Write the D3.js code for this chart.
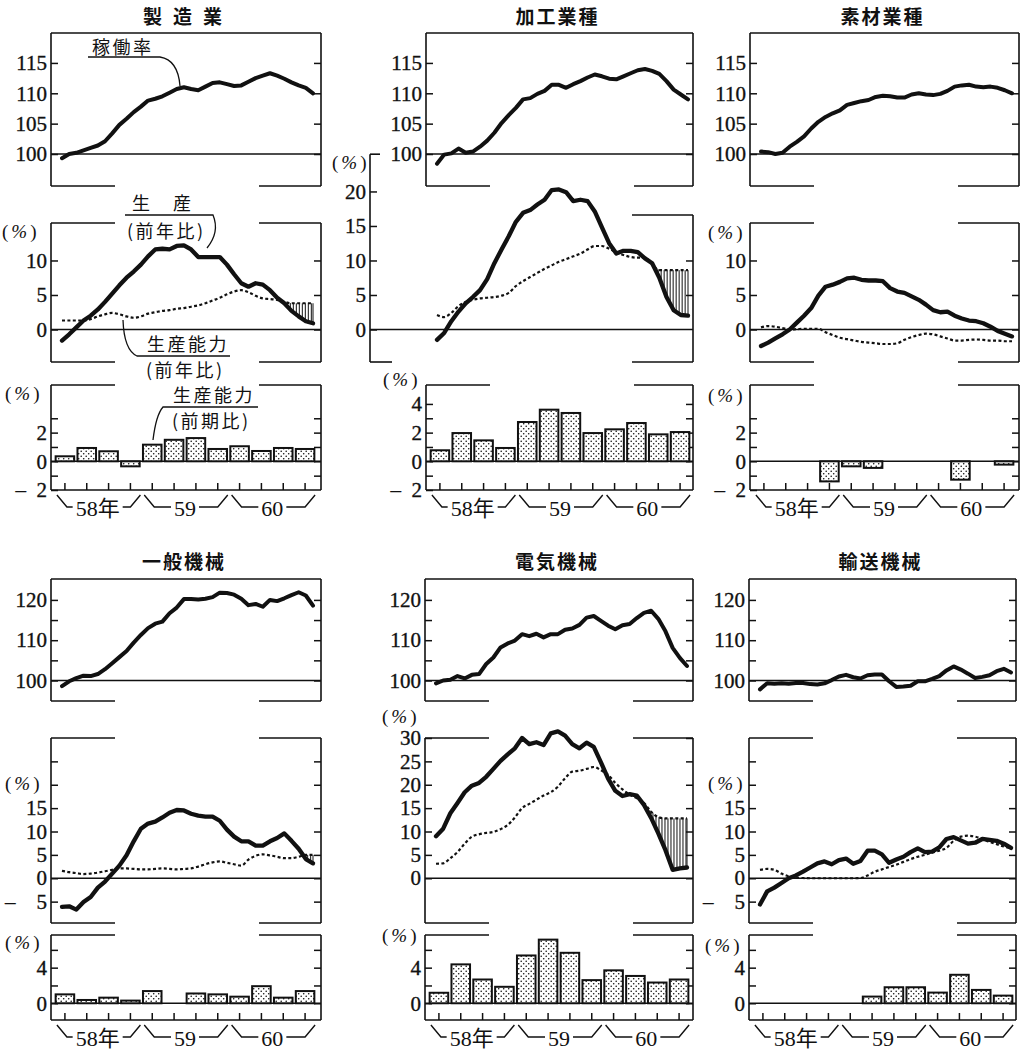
<!DOCTYPE html>
<html>
<head>
<meta charset="utf-8">
<script src="https://cdn.jsdelivr.net/npm/d3@7"></script>
<style>
  body { margin: 0; background: #fff; }
  svg text { font-family: "Liberation Serif", "Noto Sans CJK JP", serif; fill: #111; }
  svg text.jp { font-family: "Noto Sans CJK JP", sans-serif; }
  svg .tick text { stroke: #111; stroke-width: 0.35px; }
</style>
</head>
<body>
<svg id="chart" width="1025" height="1052"></svg>
<script>
// months 0..35 = 58年1月 .. 60年12月, quarters 0..11
const months = d3.range(36);
const quarters = d3.range(12);
const yearLabels = ["58年", "59", "60"];
const titles = ["製造業", "加工業種", "素材業種", "一般機械", "電気機械", "輸送機械"];

// 製造業
const mfgRate = [99.3,100.0,100.2,100.6,101.0,101.4,102.1,103.4,104.8,105.8,106.9,107.8,108.8,109.1,109.5,110.1,110.7,111.0,110.7,110.5,111.1,111.7,111.8,111.5,111.2,111.3,111.9,112.5,112.9,113.3,112.9,112.4,111.8,111.3,110.9,110.0];
const mfgOutput = [-1.6,-0.7,0.3,1.3,2.0,2.9,4.0,5.2,6.4,7.5,8.4,9.4,10.6,11.6,11.7,11.6,12.1,12.2,11.6,10.5,10.5,10.5,10.5,9.4,8.0,6.7,6.2,6.7,6.5,5.7,4.6,3.8,2.7,1.9,1.2,0.9];
const mfgCapacity = [1.3,1.3,1.3,1.3,1.5,1.9,2.2,2.4,2.2,1.9,1.7,1.9,2.3,2.5,2.7,2.8,3.0,3.1,3.3,3.5,3.8,4.2,4.6,5.1,5.5,5.7,5.4,4.9,4.5,4.4,4.3,4.0,3.8,3.8,3.8,3.8];
const mfgCapQ = [0.35,0.93,0.7,-0.35,1.16,1.5,1.62,0.86,1.05,0.72,0.93,0.86];

// 加工業種
const procRate = [98.4,99.9,100.1,100.9,100.2,100.4,101.2,102.2,103.5,105.1,106.4,107.6,109.0,109.2,109.9,110.4,111.4,111.4,110.9,111.5,112.0,112.6,113.1,112.8,112.4,112.3,112.8,113.3,113.8,114.0,113.7,113.2,112.0,110.6,109.8,109.0];
const procOutput = [-1.5,-0.5,1.2,2.6,3.8,4.7,5.7,7.3,9.6,11.6,13.5,15.6,16.9,17.3,18.1,18.8,20.2,20.3,19.9,18.6,18.8,18.6,17.1,14.8,12.5,11.0,11.4,11.4,11.2,10.3,9.6,7.5,4.7,2.8,2.1,2.0];
const procCapacity = [2.1,1.8,2.4,3.4,4.0,4.3,4.5,4.6,4.7,4.9,5.3,6.3,7.0,7.6,8.2,8.8,9.3,9.8,10.2,10.6,11.0,11.6,12.1,12.1,11.7,11.2,10.8,10.5,10.4,10.4,9.4,8.6,8.6,8.6,8.6,8.6];
const procCapQ = [0.77,1.97,1.46,0.93,2.74,3.6,3.37,1.97,2.23,2.67,1.88,2.04];

// 素材業種
const matRate = [100.4,100.3,100.0,100.2,101.2,102.0,102.9,104.2,105.3,106.1,106.7,107.2,108.1,108.4,108.7,108.9,109.4,109.6,109.5,109.3,109.3,109.8,110.0,109.8,109.7,109.9,110.4,111.1,111.3,111.4,111.1,111.0,111.1,110.9,110.5,110.0];
const matOutput = [-2.4,-1.9,-1.3,-0.7,0.0,1.0,2.0,3.1,4.9,6.2,6.5,6.9,7.4,7.5,7.2,7.1,7.1,7.0,6.0,5.5,5.3,4.8,4.3,3.6,2.8,2.5,2.6,2.0,1.6,1.3,1.2,0.9,0.4,-0.2,-0.6,-1.0];
const matCapacity = [0.3,0.5,0.4,0.2,0.0,0.05,0.1,0.1,0.1,-0.4,-0.8,-1.2,-1.4,-1.6,-1.8,-1.9,-2.0,-2.1,-2.1,-2.0,-1.5,-1.1,-0.8,-0.6,-0.7,-1.0,-1.3,-1.6,-1.6,-1.5,-1.45,-1.5,-1.6,-1.6,-1.7,-1.7];
const matCapQ = [0,0,0,-1.4,-0.35,-0.46,0,0,0,-1.28,0,-0.23];

// 一般機械
const genRate = [98.6,99.8,100.6,101.2,101.1,101.6,102.8,104.3,105.8,107.3,109.4,111.3,113.0,114.1,114.6,116.7,118.1,120.2,120.2,120.1,120.3,120.7,121.8,121.7,121.3,120.3,118.7,119.0,118.3,120.0,119.7,120.4,121.2,121.9,121.1,118.6];
const genOutput = [-6.1,-6.0,-6.7,-5.1,-4.0,-2.0,-0.7,1.0,2.7,4.9,7.9,10.6,11.7,12.1,13.0,14.0,14.6,14.5,13.8,13.4,13.2,13.2,12.3,10.4,8.9,7.9,7.9,7.0,7.0,7.9,8.6,9.6,8.0,6.3,4.1,3.2];
const genCapacity = [1.6,1.3,1.1,0.9,1.0,1.2,1.5,1.8,2.1,2.1,2.0,1.9,1.9,2.0,2.1,2.0,1.9,2.0,2.1,2.5,3.0,3.4,3.6,3.3,3.0,2.7,4.0,4.8,5.1,4.9,4.6,4.3,4.3,4.6,5.0,5.0];
const genCapQ = [1.0,0.37,0.63,0.3,1.37,0,1.1,1.0,0.74,1.92,0.63,1.37];

// 電気機械
const elecRate = [99.3,100.0,100.2,101.1,100.5,101.4,101.6,104.1,105.7,108.2,109.2,109.9,111.5,111.0,111.6,110.7,111.5,111.5,112.6,112.9,113.8,115.6,116.0,114.8,113.6,112.7,113.7,114.0,115.5,116.8,117.3,115.3,112.2,108.1,105.6,103.6];
const elecOutput = [9.0,10.6,13.9,16.1,18.4,19.8,20.4,21.7,23.4,25.1,26.5,27.8,30.0,28.7,29.1,28.5,31.0,31.4,30.5,28.7,27.8,29.0,28.1,24.8,21.3,18.7,17.6,18.0,17.7,15.7,12.9,9.6,6.0,1.8,2.1,2.3];
const elecCapacity = [3.1,3.2,4.3,5.6,7.4,8.9,9.4,9.7,9.9,10.5,11.4,13.0,15.0,15.9,16.8,17.7,18.4,19.6,21.4,22.8,23.0,23.4,23.8,23.1,22.1,20.4,19.0,17.9,17.1,16.1,14.2,13.1,12.8,12.8,12.8,12.8];
const elecCapQ = [1.18,4.37,2.67,1.85,5.37,7.15,5.67,2.6,3.7,3.07,2.33,2.67];

// 輸送機械
const transRate = [97.8,99.3,99.2,99.3,99.2,99.4,99.4,99.1,99.0,99.3,100.1,101.0,101.4,100.8,100.5,101.3,101.5,101.5,99.8,98.4,98.5,98.7,99.8,99.8,100.4,101.1,102.5,103.5,102.7,101.7,100.6,100.9,101.3,102.3,102.9,102.0];
const transOutput = [-5.6,-2.8,-2.0,-1.0,0.0,0.6,1.4,2.3,3.2,3.6,3.0,3.9,4.2,3.1,3.7,5.9,5.9,5.1,3.3,4.0,4.6,5.6,6.4,5.6,5.7,6.6,8.4,8.8,8.1,7.4,7.6,8.4,8.2,8.0,7.4,6.5];
const transCapacity = [1.8,2.0,1.8,1.0,0.4,0.1,0.05,0,0,0,0,0,0,0,0.05,0.6,1.4,1.9,2.4,2.9,3.5,4.1,4.6,5.0,5.5,5.9,6.5,8.0,8.9,9.1,8.9,8.4,7.8,7.3,6.8,6.4];
const transCapQ = [0,0,0,0,0,0.75,1.8,1.8,1.2,3.2,1.5,0.86];

// vertical layout of the two rows of panels
const rowLayout = [
  { titleY: 24, top: [33, 186], topDomain: [94.73, 119.93], mid: [223, 362], midDomain: [-4.71, 15.43], bar: [385, 490], barDomain: [-2, 5.32], neg: "\u2002" },
  { titleY: 569, top: [579, 701], topDomain: [94.91, 125.19], mid: [738, 923], midDomain: [-9.57, 30], bar: [935, 1020], barDomain: [-1.88, 7.67], neg: "\u2003" }
];

const panels = [
  { name: titles[0], row: 0, left: 51, right: 321, rate: mfgRate, output: mfgOutput, capacity: mfgCapacity, capQ: mfgCapQ,
    topTicks: [100,105,110,115], topLabels: [100,105,110,115], midTicks: [0,5,10], midLabels: [0,5,10],
    barTicks: [-1,0,1,2,3], barLabels: [-2,0,2], hatchFrom: 31, pctMid: [2, 231], pctBar: [5, 393], spaced: true },
  { name: titles[1], row: 0, left: 426, right: 693, rate: procRate, output: procOutput, capacity: procCapacity, capQ: procCapQ,
    topTicks: [100,105,110,115], topLabels: [100,105,110,115], midTicks: [0,5,10,15,20], midLabels: [0,5,10,15,20],
    barTicks: [-1,0,1,2,3,4], barLabels: [-2,0,2,4], hatchFrom: 30, pctMid: [332, 162], pctBar: [383, 379], tall: true },
  { name: titles[2], row: 0, left: 750, right: 1019, rate: matRate, output: matOutput, capacity: matCapacity, capQ: matCapQ,
    topTicks: [100,105,110,115], topLabels: [100,105,110,115], midTicks: [0,5,10], midLabels: [0,5,10],
    barTicks: [-1,0,1,2,3], barLabels: [-2,0,2], hatchFrom: null, pctMid: [708, 232], pctBar: [708, 395] },
  { name: titles[3], row: 1, left: 51, right: 321, rate: genRate, output: genOutput, capacity: genCapacity, capQ: genCapQ,
    topTicks: [100,105,110,115,120], topLabels: [100,110,120], midTicks: [-5,0,5,10,15,20,25], midLabels: [-5,0,5,10,15],
    barTicks: [0,2,4,6], barLabels: [0,4], hatchFrom: 33, pctMid: [5, 783], pctBar: [5, 942] },
  { name: titles[4], row: 1, left: 425, right: 693, rate: elecRate, output: elecOutput, capacity: elecCapacity, capQ: elecCapQ,
    topTicks: [100,105,110,115,120], topLabels: [100,110,120], midTicks: [0,5,10,15,20,25,30], midLabels: [0,5,10,15,20,25,30],
    barTicks: [0,2,4,6], barLabels: [0,4], hatchFrom: 29, pctMid: [382, 716], pctBar: [382, 935] },
  { name: titles[5], row: 1, left: 749, right: 1016, rate: transRate, output: transOutput, capacity: transCapacity, capQ: transCapQ,
    topTicks: [100,105,110,115,120], topLabels: [100,110,120], midTicks: [-5,0,5,10,15,20,25], midLabels: [-5,0,5,10,15],
    barTicks: [0,2,4,6], barLabels: [0,4], hatchFrom: null, pctMid: [708, 783], pctBar: [705, 945] }
];

// call-out labels of the first panel
const notes = [
  { lines: [["稼働率", 92, 54]], path: "M88,57H160Q178,60 180,86" },
  { lines: [["生\u3000産", 132, 210], ["(前年比)", 127, 238]], path: "M125,215H213Q220,232 207,248" },
  { lines: [["生産能力", 147, 351], ["(前年比)", 146, 377]], path: "M230,356H137Q124,350 123,320" },
  { lines: [["生産能力", 173, 402], ["(前期比)", 172, 428]], path: "M258,407H163Q156,415 153,440" }
];

const svg = d3.select("#chart");
const pat = svg.append("defs").append("pattern")
  .attr("id", "dots").attr("patternUnits", "userSpaceOnUse").attr("width", 5).attr("height", 5);
pat.append("rect").attr("width", 5).attr("height", 5).attr("fill", "#fff");
pat.append("circle").attr("cx", 1.2).attr("cy", 1.2).attr("r", 0.8).attr("fill", "#111");
pat.append("circle").attr("cx", 3.7).attr("cy", 3.7).attr("r", 0.8).attr("fill", "#111");

function segs(g, list, w) {
  g.selectAll(null).data(list).join("line")
    .attr("x1", d => d[0]).attr("y1", d => d[1]).attr("x2", d => d[2]).attr("y2", d => d[3])
    .attr("stroke", "#111").attr("stroke-width", w || 1.5);
}

// box with optional gaps in the top / bottom edges
function frame(g, x0, x1, y0, y1, gapTop, gapBottom) {
  const list = [[x0, y0, x0, y1], [x1, y0, x1, y1]];
  [[y0, gapTop], [y1, gapBottom]].forEach(([y, gap]) => {
    if (gap) { list.push([x0, y, gap[0], y], [gap[1], y, x1, y]); }
    else { list.push([x0, y, x1, y]); }
  });
  segs(g, list, 1.6);
}

function yAxes(g, y, x0, x1, ticks, labels, neg, rightTicks) {
  const fmt = v => labels.includes(v) ? (v < 0 ? "\u2013" + neg + Math.abs(v) : String(v)) : "";
  const vals = Array.from(new Set(ticks.concat(labels)));
  const left = g.append("g").attr("transform", `translate(${x0},0)`)
    .call(d3.axisLeft(y).tickValues(vals).tickSize(-7).tickPadding(4).tickFormat(fmt));
  const right = g.append("g").attr("transform", `translate(${x1},0)`)
    .call(d3.axisRight(y).tickValues(rightTicks || ticks).tickSize(-7).tickFormat(""));
  [left, right].forEach(a => {
    a.select(".domain").remove();
    a.attr("font-size", 21);
    a.selectAll(".tick line").attr("stroke", "#111").attr("stroke-width", 1.5);
  });
}

function pct(g, pos) {
  const t = g.append("text").attr("x", pos[0]).attr("y", pos[1])
    .attr("dominant-baseline", "central").attr("font-size", 19).attr("letter-spacing", 3);
  t.append("tspan").text("(");
  t.append("tspan").attr("font-style", "italic").text("%");
  t.append("tspan").text(")");
}

function drawPanel(p) {
  const L = rowLayout[p.row];
  const g = svg.append("g");
  const x = d3.scaleLinear().domain([0, 35]).range([p.left + 11, p.left + 262]);
  const xq = d3.scaleBand().domain(quarters).range([p.left + 3, p.left + 265]).paddingInner(0.15).paddingOuter(0.075);
  const gap = [p.left + 64, p.left + 208];

  g.append("text").attr("class", "jp")
    .attr("x", (p.left + p.right) / 2 - 3 + (p.spaced ? 5 : 1)).attr("y", L.titleY)
    .attr("text-anchor", "middle").attr("font-size", 19).attr("font-weight", "bold")
    .attr("letter-spacing", p.spaced ? 11 : 2).text(p.name);

  // 稼働率
  const yT = d3.scaleLinear().domain(L.topDomain).range([L.top[1], L.top[0]]);
  frame(g, p.left, p.right, L.top[0], L.top[1], null, gap);
  segs(g, [[p.left, yT(100), p.right, yT(100)]], 1.4);
  yAxes(g, yT, p.left, p.right, p.topTicks, p.topLabels, L.neg);
  g.append("path").datum(p.rate)
    .attr("d", d3.line().x((d, i) => x(months[i])).y(d => yT(d)))
    .attr("fill", "none").attr("stroke", "#111").attr("stroke-width", 4)
    .attr("stroke-linejoin", "round").attr("stroke-linecap", "round");

  // 生産 / 生産能力 (前年比)
  const yM = d3.scaleLinear().domain(L.midDomain).range([L.mid[1], L.mid[0]]);
  let midLeft = p.left;
  if (p.tall) {
    midLeft = 370;
    const topY = yM(25.4), rTop = 215;
    segs(g, [[midLeft, topY, midLeft, L.mid[1]], [midLeft, topY, midLeft + 10, topY],
      [p.right, rTop, p.right, L.mid[1]], [gap[1] - 2, rTop, p.right, rTop],
      [midLeft, L.mid[1], midLeft + 22, L.mid[1]], [gap[1] - 2, L.mid[1], p.right, L.mid[1]]], 1.6);
    yAxes(g, yM, midLeft, p.right, p.midTicks, p.midLabels, L.neg, [5, 10]);
  } else {
    frame(g, p.left, p.right, L.mid[0], L.mid[1], gap, gap);
    yAxes(g, yM, p.left, p.right, p.midTicks, p.midLabels, L.neg);
  }
  segs(g, [[midLeft, yM(0), p.right, yM(0)]], 1.4);
  pct(g, p.pctMid);

  if (p.hatchFrom !== null) {
    const fo = d3.scaleLinear().domain(months).range(p.output);
    const fc = d3.scaleLinear().domain(months).range(p.capacity);
    const xs = d3.range(x(p.hatchFrom), x(35), 3).concat([x(35)]);
    const hatch = xs.map(px => ({ px, a: fc(x.invert(px)), b: fo(x.invert(px)) })).filter(s => s.a > s.b);
    g.selectAll(null).data(hatch).join("line")
      .attr("x1", s => s.px).attr("x2", s => s.px)
      .attr("y1", s => yM(s.a)).attr("y2", s => yM(s.b))
      .attr("stroke", "#111").attr("stroke-width", 1);
  }
  g.append("path").datum(p.capacity)
    .attr("d", d3.line().curve(d3.curveMonotoneX).x((d, i) => x(months[i])).y(d => yM(d)))
    .attr("fill", "none").attr("stroke", "#111").attr("stroke-width", 2.2).attr("stroke-dasharray", "3 2.4");
  g.append("path").datum(p.output)
    .attr("d", d3.line().x((d, i) => x(months[i])).y(d => yM(d)))
    .attr("fill", "none").attr("stroke", "#111").attr("stroke-width", 4.3)
    .attr("stroke-linejoin", "round").attr("stroke-linecap", "round");

  // 生産能力 (前期比)
  const yB = d3.scaleLinear().domain(L.barDomain).range([L.bar[1], L.bar[0]]);
  frame(g, p.left, p.right, L.bar[0], L.bar[1], gap, null);
  segs(g, [[p.left, yB(0), p.right, yB(0)]], 1.4);
  yAxes(g, yB, p.left, p.right, p.barTicks, p.barLabels, L.neg);
  pct(g, p.pctBar);
  const xa = g.append("g").attr("transform", `translate(0,${L.bar[1]})`)
    .call(d3.axisBottom(xq).tickSize(-7).tickFormat(""));
  xa.select(".domain").remove();
  xa.selectAll(".tick line").attr("stroke", "#111").attr("stroke-width", 1.5);

  g.selectAll(null).data(quarters.filter(q => p.capQ[q] !== 0)).join("rect")
    .attr("x", q => xq(q)).attr("width", xq.bandwidth())
    .attr("y", q => Math.min(yB(p.capQ[q]), yB(0)))
    .attr("height", q => Math.abs(yB(p.capQ[q]) - yB(0)))
    .attr("fill", "url(#dots)").attr("stroke", "#111").attr("stroke-width", 2);

  // year brackets
  yearLabels.forEach((lab, k) => {
    const x0 = xq(4 * k) + xq.bandwidth() / 2 - 8;
    const x1 = xq(4 * k + 3) + xq.bandwidth() / 2 + 10;
    const yt = L.bar[1] + 5, yl = L.bar[1] + 17;
    const cx = (x0 + x1) / 2 - 1;
    const t = g.append("text").attr("x", cx).attr("y", yl + 1)
      .attr("text-anchor", "middle").attr("dominant-baseline", "central").attr("font-size", 22).text(lab);
    const w = t.node().getComputedTextLength();
    g.append("path")
      .attr("d", `M${x0},${yt}L${x0 + 10},${yl}H${cx - w / 2 - 3}M${cx + w / 2 + 3},${yl}H${x1 - 10}L${x1},${yt}`)
      .attr("fill", "none").attr("stroke", "#111").attr("stroke-width", 1.4);
  });
}

panels.forEach(drawPanel);

const ng = svg.append("g");
notes.forEach(n => {
  n.lines.forEach(([txt, lx, ly]) => {
    ng.append("text").attr("class", "jp").attr("x", lx).attr("y", ly)
      .attr("font-size", 18).attr("letter-spacing", 2.5).text(txt);
  });
  ng.append("path").attr("d", n.path).attr("fill", "none").attr("stroke", "#111").attr("stroke-width", 1.3);
});
</script>
</body>
</html>
